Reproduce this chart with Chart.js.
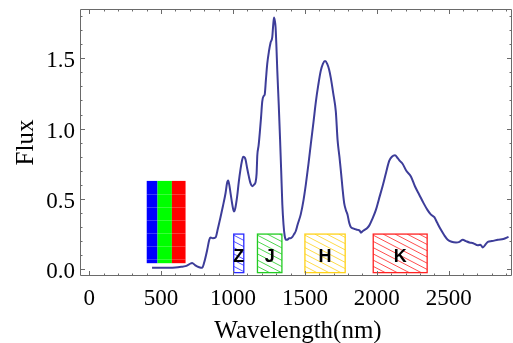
<!DOCTYPE html>
<html><head><meta charset="utf-8">
<script src="https://cdn.jsdelivr.net/npm/chart.js@4.4.0/dist/chart.umd.min.js"></script>
<style>html,body{margin:0;padding:0;background:#fff;overflow:hidden}canvas{display:block}</style>
</head><body>
<canvas id="c" width="513" height="343" style="width:513px;height:343px"></canvas>
<script>
// ---- data ----
const wavelength = [437,500,560,600,640,669,695,716,735,750,770,785,800,820,835,843,860,878,895,913,930,948,958,966,974,983,995,1006,1015,1029,1040,1052,1062,1071,1080,1087,1098,1110,1122,1134,1145,1157,1164,1169,1178,1187,1195,1203,1212,1220,1229,1238,1250,1261,1273,1279,1285,1290,1296,1302,1308,1318,1327,1335,1343,1351,1359,1368,1378,1390,1400,1413,1425,1436,1450,1471,1490,1506,1525,1541,1560,1576,1593,1610,1625,1640,1655,1668,1680,1697,1715,1727,1740,1750,1762,1773,1785,1796,1808,1819,1835,1850,1866,1880,1890,1901,1915,1930,1947,1970,1993,2015,2040,2065,2086,2105,2126,2145,2160,2179,2205,2237,2265,2295,2325,2353,2375,2400,2420,2446,2470,2493,2520,2551,2575,2598,2620,2644,2670,2702,2720,2737,2755,2772,2800,2842,2880,2916];
const flux = [0.01,0.01,0.01,0.012,0.017,0.022,0.035,0.045,0.03,0.02,0.012,0.01,0.05,0.135,0.21,0.225,0.22,0.225,0.29,0.37,0.45,0.54,0.61,0.63,0.6,0.54,0.46,0.41,0.43,0.52,0.62,0.71,0.77,0.80,0.795,0.78,0.72,0.66,0.61,0.59,0.60,0.62,0.68,0.81,0.88,0.98,1.08,1.19,1.23,1.24,1.35,1.46,1.55,1.61,1.65,1.73,1.79,1.77,1.72,1.58,1.41,1.17,0.93,0.70,0.46,0.32,0.24,0.21,0.21,0.22,0.22,0.23,0.25,0.27,0.32,0.39,0.49,0.60,0.75,0.89,1.05,1.19,1.31,1.41,1.46,1.48,1.46,1.42,1.36,1.25,1.12,0.92,0.80,0.70,0.57,0.47,0.42,0.39,0.33,0.30,0.29,0.285,0.28,0.275,0.26,0.27,0.28,0.29,0.31,0.36,0.42,0.50,0.59,0.69,0.77,0.80,0.81,0.79,0.77,0.75,0.70,0.66,0.59,0.53,0.47,0.42,0.39,0.37,0.33,0.28,0.24,0.21,0.195,0.19,0.195,0.21,0.20,0.19,0.185,0.17,0.175,0.155,0.175,0.195,0.20,0.21,0.215,0.23];
const xTickValues = [0,500,1000,1500,2000,2500];
const xTickLabels = ['0','500','1000','1500','2000','2500'];
const yTickValues = [0,0.5,1.0,1.5];
const yTickLabels = ['0.0','0.5','1.0','1.5'];
const xTitle = 'Wavelength(nm)';
const yTitle = 'Flux';
const bandNames = ['Z','J','H','K'];
const bandStart = [1005,1170,1500,1975];
const bandEnd = [1075,1340,1780,2350];
const bandColors = ['#2a2aff','#22cc22','#ffd21a','#ff2222'];
const bandLow = -0.024, bandHigh = 0.25, bandLabelY = 0.087;
const rgbStart = [400,475,575];
const rgbEnd = [475,575,670];
const rgbColors = ['#0000ff','#00ff00','#ff0000'];
const rgbLow = 0.043, rgbHigh = 0.628;

const bandsPlugin = {
  id: 'bands',
  beforeDatasetsDraw(chart) {
    const {ctx, scales: {x, y}} = chart;
    ctx.save();
    for (let i = 0; i < rgbStart.length; i++) {
      const x0 = x.getPixelForValue(rgbStart[i]), x1 = x.getPixelForValue(rgbEnd[i]);
      const y0 = y.getPixelForValue(rgbHigh), y1 = y.getPixelForValue(rgbLow);
      ctx.fillStyle = rgbColors[i];
      ctx.fillRect(x0, y0, x1 - x0, y1 - y0);
      ctx.strokeStyle = 'rgba(255,255,255,0.22)';
      ctx.lineWidth = 1;
      ctx.beginPath();
      for (let yy = y0 + 13; yy < y1 - 2; yy += 13) { ctx.moveTo(x0, Math.round(yy)+0.5); ctx.lineTo(x1, Math.round(yy)+0.5); }
      ctx.stroke();
    }
    for (let i = 0; i < bandNames.length; i++) {
      const x0 = x.getPixelForValue(bandStart[i]), x1 = x.getPixelForValue(bandEnd[i]);
      const y0 = y.getPixelForValue(bandHigh), y1 = y.getPixelForValue(bandLow);
      ctx.save();
      ctx.beginPath(); ctx.rect(x0, y0, x1 - x0, y1 - y0); ctx.clip();
      ctx.strokeStyle = bandColors[i]; ctx.lineWidth = 1; ctx.globalAlpha = 0.8;
      const h = y1 - y0, slope = 0.52, step = 12;
      ctx.beginPath();
      for (let c = x0 - h / slope - step; c < x1 + step; c += step) { ctx.moveTo(c, y0); ctx.lineTo(c + h / slope, y1); }
      ctx.stroke();
      ctx.restore();
      ctx.strokeStyle = bandColors[i]; ctx.lineWidth = 1.3;
      ctx.strokeRect(x0, y0, x1 - x0, y1 - y0);
      ctx.fillStyle = '#000';
      ctx.font = "bold 18px 'Liberation Sans', Arial, sans-serif";
      ctx.textAlign = 'center'; ctx.textBaseline = 'middle';
      ctx.fillText(bandNames[i], (x0 + x1) / 2, y.getPixelForValue(bandLabelY));
    }
    ctx.restore();
  }
};

const framePlugin = {
  id: 'frame',
  afterDraw(chart) {
    const {ctx, chartArea: a, scales: {x, y}} = chart;
    ctx.save();
    ctx.strokeStyle = '#6a6a6a';
    ctx.lineWidth = 1;
    ctx.beginPath();
    ctx.rect(Math.round(a.left) + 0.5, Math.round(a.top) + 0.5, Math.round(a.right - a.left) - 1, Math.round(a.bottom - a.top) - 1);
    ctx.stroke();
    ctx.beginPath();
    for (let v = 0; v <= 2900; v += 100) {
      const px = Math.round(x.getPixelForValue(v)) + 0.5;
      const L = (v % 500 === 0) ? 5 : 2.5;
      ctx.moveTo(px, a.bottom); ctx.lineTo(px, a.bottom - L);
      ctx.moveTo(px, a.top); ctx.lineTo(px, a.top + L);
    }
    for (let k = 0; k <= 18; k++) {
      const v = k / 10;
      const py = Math.round(y.getPixelForValue(v)) + 0.5;
      const L = (k % 5 === 0) ? 5 : 2.5;
      ctx.moveTo(a.left, py); ctx.lineTo(a.left + L, py);
      ctx.moveTo(a.right, py); ctx.lineTo(a.right - L, py);
    }
    ctx.stroke();
    // tick labels and titles (serif)
    ctx.fillStyle = '#000';
    ctx.font = '23px Liberation Serif';
    ctx.textBaseline = 'alphabetic';
    ctx.textAlign = 'center';
    xTickValues.forEach((v, i) => ctx.fillText(xTickLabels[i], x.getPixelForValue(v), a.bottom + 29));
    ctx.textAlign = 'right';
    yTickValues.forEach((v, i) => ctx.fillText(yTickLabels[i], a.left - 5, y.getPixelForValue(v) + 9));
    ctx.font = '25px Liberation Serif';
    ctx.textAlign = 'center';
    ctx.fillText(xTitle, (a.left + a.right) / 2 + 2, 338);
    ctx.save();
    ctx.translate(33, (a.top + a.bottom) / 2);
    ctx.rotate(-Math.PI / 2);
    ctx.fillText(yTitle, 0, 0);
    ctx.restore();
    ctx.restore();
  }
};

function build() {
  new Chart(document.getElementById('c'), {
    type: 'line',
    data: {
      datasets: [{
        data: wavelength.map((w, i) => ({x: w, y: flux[i]})),
        borderColor: 'rgb(61,61,153)',
        borderWidth: 2,
        pointRadius: 0,
        fill: false,
        cubicInterpolationMode: 'monotone'
      }]
    },
    options: {
      responsive: false,
      animation: false,
      devicePixelRatio: 1,
      layout: {padding: {top: 9, right: 1, left: 0, bottom: 0}},
      plugins: {legend: {display: false}, tooltip: {enabled: false}},
      scales: {
        x: {
          type: 'linear', min: -64, max: 2940,
          grid: {display: false}, border: {display: false},
          afterBuildTicks: s => { s.ticks = xTickValues.map(v => ({value: v})); },
          afterFit: s => { s.height = 67; },
          ticks: {display: false}
        },
        y: {
          type: 'linear', min: -0.048, max: 1.85,
          grid: {display: false}, border: {display: false},
          afterBuildTicks: s => { s.ticks = yTickValues.map(v => ({value: v})); },
          afterFit: s => { s.width = 80; },
          ticks: {display: false}
        }
      }
    },
    plugins: [bandsPlugin, framePlugin]
  });
}
Promise.all([
  document.fonts.load("23px 'Liberation Serif'"),
  document.fonts.load("bold 18px 'Liberation Sans'")
]).then(build, build);
</script>
</body></html>
